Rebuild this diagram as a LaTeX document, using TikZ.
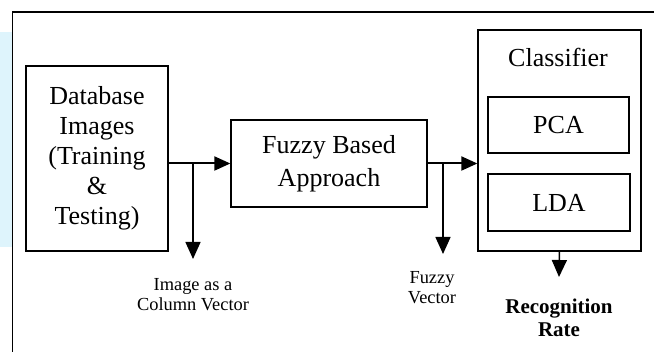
\documentclass[tikz,border=0pt]{standalone}
\usepackage{fontspec}
\setmainfont{Liberation Serif}
\usetikzlibrary{arrows.meta,positioning}

\definecolor{paleblue}{RGB}{222,244,252}

\tikzset{
  block/.style={draw,line width=1.3pt,align=center,inner sep=0pt,
    font=\fontsize{26}{30}\selectfont},
  flow/.style={line width=2pt,-{Triangle[length=16pt,width=14pt]}},
  tap/.style={line width=1.5pt,-{Triangle[length=17pt,width=15pt]}},
  note/.style={align=center,font=\fontsize{18.4}{20}\selectfont}
}

\begin{document}
\begin{tikzpicture}[x=1pt,y=-1pt]
    \useasboundingbox (0,0) rectangle (654,352);
    \clip (0,0) rectangle (654,352);
    \fill[paleblue] (0,32) rectangle (12,247);
    \draw[line width=1.3pt] (12.7,360) -- (12.7,12) -- (660,12);

      \node[block,minimum width=142pt,minimum height=185pt] (db) at (97,158.5)
        {Database\\Images\\(Training\\\&\\Testing)};
      \node[block,minimum width=196pt,minimum height=87pt,
        font=\fontsize{26}{33}\selectfont] (fuzzy) at (329,163.5)
        {Fuzzy Based\\Approach};
      \node[block,minimum width=163pt,minimum height=221pt] (cls) at (559.5,140.5) {};
      \node[font=\fontsize{26}{30}\selectfont] (clsname) at (558,57) {Classifier};
      \node[block,minimum width=141pt,minimum height=56pt] (pca) at (558.5,125) {PCA};
      \node[block,minimum width=142pt,minimum height=57pt] (lda) at (559,202.5) {LDA};

      \coordinate (tap1) at (193,163.5);
      \coordinate (end1) at (193,259);
      \coordinate (tap2) at (443,163.5);
      \coordinate (end2) at (443,254);
      \coordinate (end3) at (559,277);

      \draw[flow] (db.east |- fuzzy.west) -- (fuzzy.west);
      \draw[flow] (fuzzy.east) -- (cls.west |- fuzzy.east);
      \draw[tap] (tap1) -- (end1);
      \draw[tap] (tap2) -- (end2);
      \draw[tap] (cls.south) -- (end3);

      \node[note] (vec) at (193,295) {Image as a\\Column Vector};
      \node[note] (fvec) at (432,288) {Fuzzy\\Vector};
      \node[note,font=\fontsize{21}{23}\selectfont\bfseries] (rate) at (559,318)
        {Recognition\\Rate};
    \end{tikzpicture}
\end{document}
